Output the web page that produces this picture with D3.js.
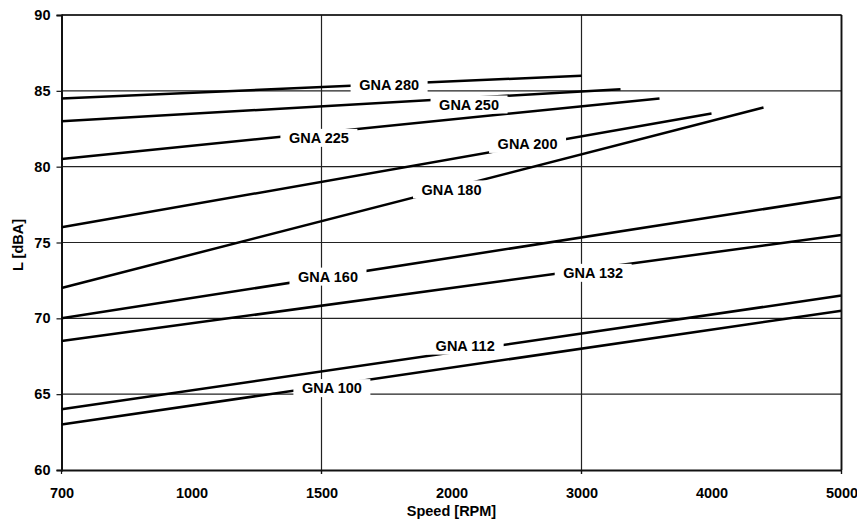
<!DOCTYPE html>
<html>
<head>
<meta charset="utf-8">
<script src="https://cdn.jsdelivr.net/npm/d3@7"></script>
<style>
  body { margin: 0; background: #fff; }
  text { font-family: "Liberation Sans", Arial, sans-serif; font-weight: bold; }
</style>
</head>
<body>
<div id="d3"></div>
<script>
// series
var names = ["GNA 280", "GNA 250", "GNA 225", "GNA 200", "GNA 180", "GNA 160", "GNA 132", "GNA 112", "GNA 100"];
var startSpeed = [700, 700, 700, 700, 700, 700, 700, 700, 700];
var endSpeed = [3000, 3300, 3600, 4000, 4400, 5000, 5000, 5000, 5000];
var startDb = [84.5, 83, 80.5, 76, 72, 70, 68.5, 64, 63];
var endDb = [86, 85.1, 84.5, 83.5, 83.9, 78, 75.5, 71.5, 70.5];
// where the name labels sit (speed, dB)
var labelSpeed = [1760, 2135, 1490, 2585, 2000, 1525, 3090, 2105, 1540];
var labelDb = [85.4, 84.1, 81.9, 81.5, 78.5, 72.75, 73.0, 68.2, 65.4];

// axes
var xTicks = [700, 1000, 1500, 2000, 3000, 4000, 5000];
var xGrid = [700, 1500, 3000, 5000];
var yTicks = [60, 65, 70, 75, 80, 85, 90];

var w = 857;
var h = 519;
var mLeft = 61.5, mRight = 841.5, mTop = 15, mBottom = 470;
var fs = "14.5px";

var svg = d3.select("#d3")
    .append("svg")
    .attr("width", w)
    .attr("height", h);

// x ticks are spaced evenly, so piecewise linear
var x = d3.scaleLinear()
    .domain(xTicks)
    .range(xTicks.map(function (d, i) {
        return mLeft + i * (mRight - mLeft) / (xTicks.length - 1);
    }));

var y = d3.scaleLinear()
    .domain([60, 90])
    .range([mBottom, mTop]);

// grid
svg.selectAll(".hgrid")
    .data(yTicks.slice(1))
    .enter()
    .append("line")
    .attr("x1", mLeft)
    .attr("x2", mRight)
    .attr("y1", function (d) { return y(d); })
    .attr("y2", function (d) { return y(d); })
    .attr("stroke", "#222")
    .attr("stroke-width", 1.2);

svg.selectAll(".vgrid")
    .data(xGrid.slice(1))
    .enter()
    .append("line")
    .attr("x1", function (d) { return x(d); })
    .attr("x2", function (d) { return x(d); })
    .attr("y1", mTop)
    .attr("y2", mBottom + 4)
    .attr("stroke", "#222")
    .attr("stroke-width", 1.2);

// y axis
var yAxis = d3.axisLeft(y)
    .tickValues(yTicks)
    .tickSize(5)
    .tickPadding(6);

var gy = svg.append("g")
    .attr("transform", "translate(" + mLeft + ",0)")
    .call(yAxis);
gy.select(".domain").attr("stroke", "#111").attr("stroke-width", 2);
gy.selectAll(".tick line").attr("stroke", "#111").attr("stroke-width", 1.2);
gy.selectAll("text").attr("font-size", fs).attr("fill", "#000")
    .style("font-family", "'Liberation Sans', Arial, sans-serif").style("font-weight", "bold");

// x axis
var xAxis = d3.axisBottom(x)
    .tickValues(xTicks)
    .tickFormat(d3.format("d"))
    .tickSize(0)
    .tickPadding(17.5);

var gx = svg.append("g")
    .attr("transform", "translate(0," + mBottom + ")")
    .call(xAxis);
gx.select(".domain").attr("stroke", "#111").attr("stroke-width", 2);
gx.selectAll("text").attr("font-size", fs).attr("fill", "#000")
    .style("font-family", "'Liberation Sans', Arial, sans-serif").style("font-weight", "bold");

gx.selectAll(".xtick")
    .data(xGrid)
    .enter()
    .append("line")
    .attr("x1", function (d) { return x(d); })
    .attr("x2", function (d) { return x(d); })
    .attr("y1", 0)
    .attr("y2", 4)
    .attr("stroke", "#111")
    .attr("stroke-width", 1.2);

// axis titles
svg.append("text")
    .attr("x", (mLeft + mRight) / 2)
    .attr("y", 516)
    .attr("text-anchor", "middle")
    .attr("font-size", fs)
    .text("Speed [RPM]");

svg.append("text")
    .attr("transform", "translate(23,245) rotate(-90)")
    .attr("text-anchor", "middle")
    .attr("font-size", fs)
    .text("L [dBA]");

// series lines
svg.selectAll(".series")
    .data(names)
    .enter()
    .append("line")
    .attr("x1", function (d, i) { return x(startSpeed[i]); })
    .attr("y1", function (d, i) { return y(startDb[i]); })
    .attr("x2", function (d, i) { return x(endSpeed[i]); })
    .attr("y2", function (d, i) { return y(endDb[i]); })
    .attr("stroke", "#000")
    .attr("stroke-width", 2.5);

// labels with white boxes over the lines
var labels = svg.selectAll(".lab")
    .data(names)
    .enter()
    .append("g")
    .attr("transform", function (d, i) {
        return "translate(" + x(labelSpeed[i]) + "," + y(labelDb[i]) + ")";
    });

labels.append("rect")
    .attr("x", -38.5)
    .attr("y", -9)
    .attr("width", 77)
    .attr("height", 18)
    .attr("fill", "#fff");

labels.append("text")
    .attr("text-anchor", "middle")
    .attr("y", 5.3)
    .attr("font-size", fs)
    .text(function (d) { return d; });

// top and right border
svg.append("line")
    .attr("x1", mLeft).attr("x2", mRight)
    .attr("y1", mTop).attr("y2", mTop)
    .attr("stroke", "#111").attr("stroke-width", 1.5);
svg.append("line")
    .attr("x1", mRight).attr("x2", mRight)
    .attr("y1", mTop).attr("y2", mBottom)
    .attr("stroke", "#111").attr("stroke-width", 1.8);
</script>
</body>
</html>
